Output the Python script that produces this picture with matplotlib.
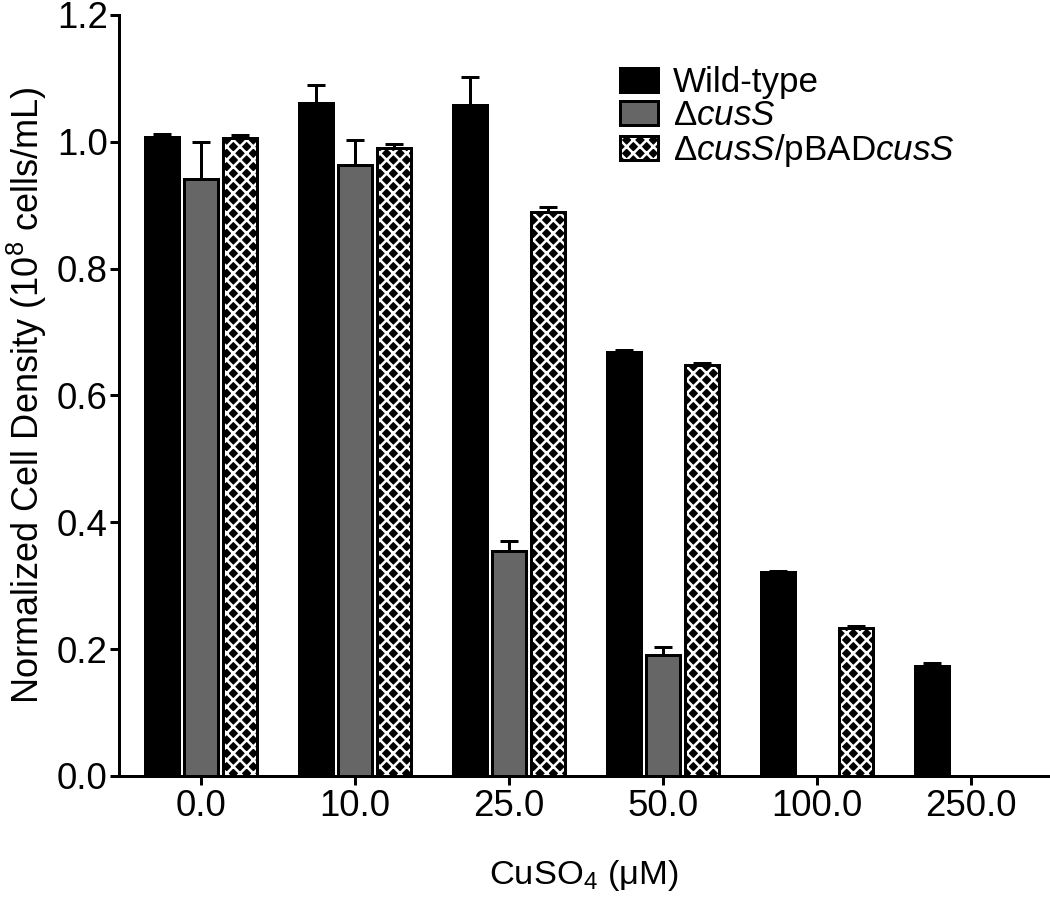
import numpy as np
import matplotlib
matplotlib.use("Agg")
import matplotlib.pyplot as plt
from matplotlib.patches import Patch

# Verdier lest av figuren
konsentrasjon = ["0.0", "10.0", "25.0", "50.0", "100.0", "250.0"]
wt = [1.007, 1.061, 1.058, 0.668, 0.321, 0.174]
wt_err = [0.005, 0.028, 0.044, 0.004, 0.003, 0.004]
delta = [0.941, 0.963, 0.354, 0.191, np.nan, np.nan]
delta_err = [0.058, 0.040, 0.016, 0.013, np.nan, np.nan]
komp = [1.006, 0.990, 0.890, 0.648, 0.233, np.nan]
komp_err = [0.004, 0.007, 0.007, 0.004, 0.003, np.nan]

navn = ["Wild-type", r"$\Delta\mathit{cusS}$", r"$\Delta\mathit{cusS}$/pBAD$\mathit{cusS}$"]

plt.rcParams["font.family"] = "Liberation Sans"
plt.rcParams["mathtext.fontset"] = "custom"
plt.rcParams["mathtext.rm"] = "Liberation Sans"
plt.rcParams["mathtext.it"] = "Liberation Sans:italic"
plt.rcParams["mathtext.default"] = "regular"
plt.rcParams["hatch.linewidth"] = 2.3

dpi = 80
fig = plt.figure(figsize=(1050 / dpi, 897 / dpi), dpi=dpi)
ax = fig.add_axes([0.1133, 0.1349, 0.8848, 0.8484])

x = np.arange(len(konsentrasjon))
b = 0.22
d = 0.253
lw = 2.7


def tegn_feil(pos, verdi, feil):
    verdi = np.array(verdi)
    feil = np.array(feil)
    ok = ~np.isnan(verdi)
    ax.errorbar(pos[ok], verdi[ok], yerr=[np.zeros(ok.sum()), feil[ok]], fmt="none",
                ecolor="black", elinewidth=lw, capsize=8, capthick=lw, zorder=1)


# Villtype
tegn_feil(x - d, wt, wt_err)
ax.bar(x - d, wt, b, color="black", edgecolor="black", linewidth=lw, zorder=2)

# Delta cusS (ingen stolper ved 100 og 250)
tegn_feil(x, delta, delta_err)
dv = np.array(delta)
ok = ~np.isnan(dv)
ax.bar(x[ok], dv[ok], b, color="#666666", edgecolor="black", linewidth=lw, zorder=2)

# Komplementert (skravert)
tegn_feil(x + d, komp, komp_err)
kv = np.array(komp)
ok = ~np.isnan(kv)
ax.bar(x[ok] + d, kv[ok], b, color="black", edgecolor="white", hatch="xx", linewidth=0, zorder=2)
ax.bar(x[ok] + d, kv[ok], b, fill=False, edgecolor="black", linewidth=lw, zorder=3)

ax.set_xlim(-0.53, 5.5)
ax.set_ylim(0, 1.2)
ax.set_yticks(np.arange(0, 1.21, 0.2))
ax.set_yticklabels([f"{v:.1f}" for v in np.arange(0, 1.21, 0.2)])
ax.set_xticks(x)
ax.set_xticklabels(konsentrasjon)
ax.spines["top"].set_visible(False)
ax.spines["right"].set_visible(False)
for s in ["left", "bottom"]:
    ax.spines[s].set_linewidth(lw)
ax.tick_params(axis="both", labelsize=33, width=lw, length=8)
ax.tick_params(axis="y", pad=2)
ax.tick_params(axis="x", pad=4)

ax.set_ylabel(r"Normalized Cell Density (10$^{8}$ cells/mL)", fontsize=32.5, labelpad=7)
ax.set_xlabel(r"CuSO$_{4}$ ($\mu$M)", fontsize=31, labelpad=30)

h1 = Patch(facecolor="black", edgecolor="black", linewidth=lw)
h2 = Patch(facecolor="#666666", edgecolor="black", linewidth=lw)
h3 = (Patch(facecolor="black", edgecolor="white", hatch="xx", linewidth=0),
      Patch(fill=False, edgecolor="black", linewidth=lw))
fig.legend([h1, h2, h3], navn, loc="upper left", bbox_to_anchor=(0.590, 0.926),
           frameon=False, fontsize=31.5, handlelength=1.09, handleheight=0.66,
           handletextpad=0.43, labelspacing=0.0, borderpad=0, borderaxespad=0)

fig.savefig("out.png", dpi=dpi)
